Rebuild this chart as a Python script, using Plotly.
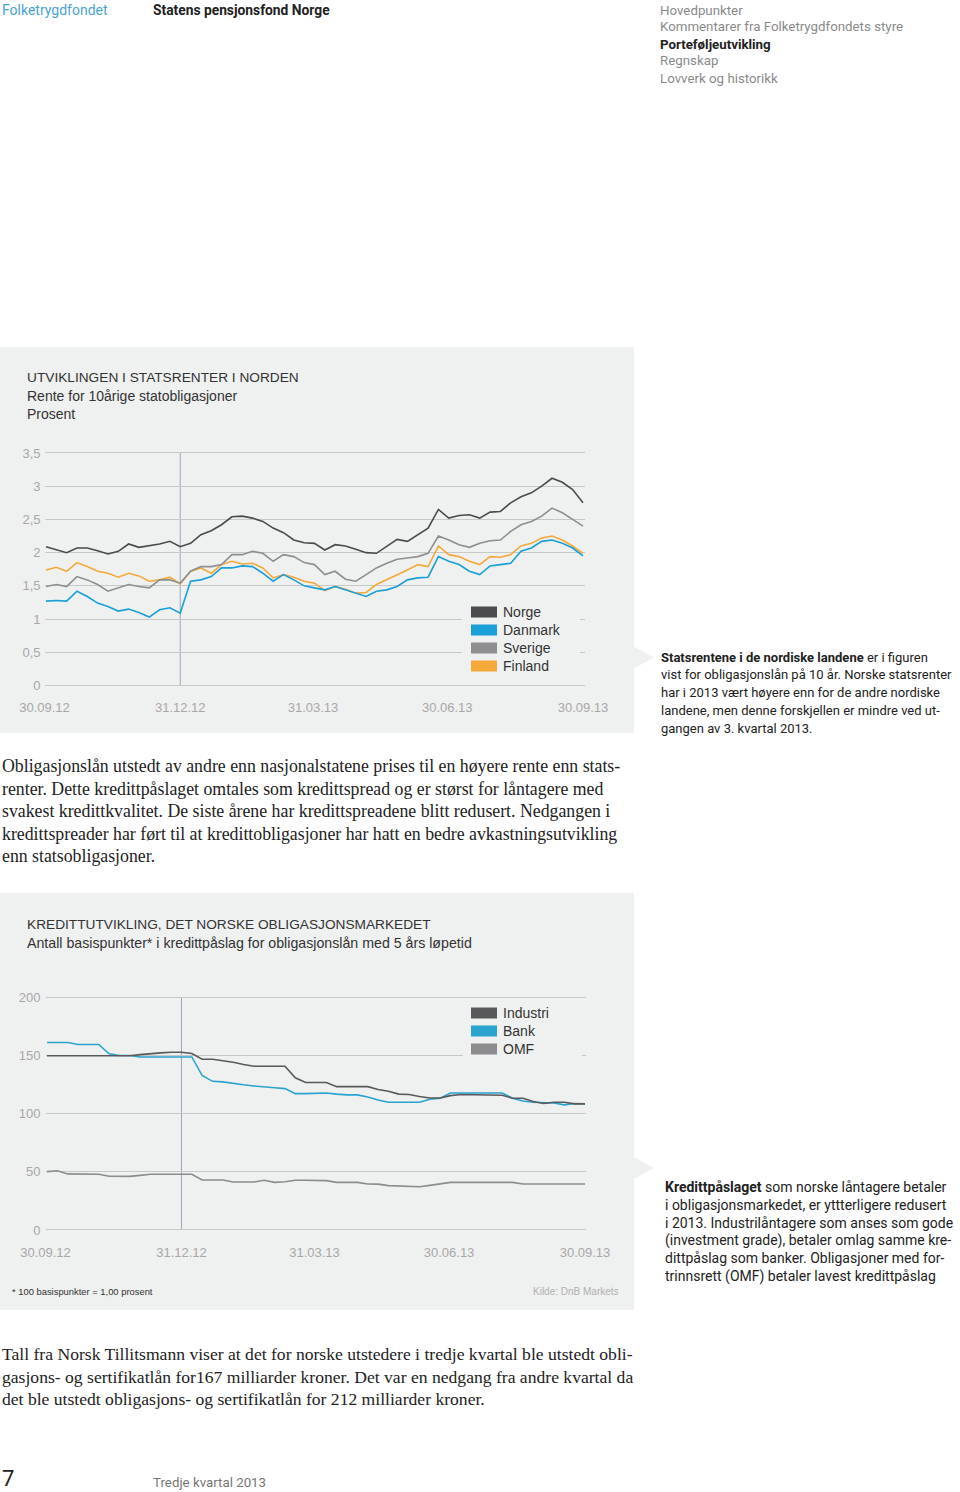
import plotly.graph_objects as go
import pandas as pd

W, H = 960, 1492


def fx(x):
    return x / W


def fy(y):
    return 1 - y / H


# ---------------- data ----------------
weeks = pd.date_range("2012-10-01", periods=53, freq="7D").strftime("%Y-%m-%d").tolist()

norge = [2.09, 2.04, 2.00, 2.07, 2.07, 2.03, 1.98, 2.02, 2.13, 2.08, 2.10, 2.13, 2.17, 2.09,
         2.14, 2.27, 2.33, 2.42, 2.54, 2.55, 2.52, 2.47, 2.37, 2.30, 2.19, 2.15, 2.14, 2.04,
         2.12, 2.10, 2.05, 2.00, 1.99, 2.09, 2.20, 2.17, 2.27, 2.37, 2.65, 2.52, 2.56, 2.57,
         2.52, 2.61, 2.62, 2.75, 2.84, 2.90, 3.00, 3.12, 3.06, 2.95, 2.75]
danmark = [1.27, 1.28, 1.27, 1.42, 1.34, 1.24, 1.19, 1.12, 1.15, 1.10, 1.03, 1.14, 1.17, 1.09,
           1.57, 1.59, 1.64, 1.77, 1.77, 1.80, 1.79, 1.69, 1.57, 1.67, 1.59, 1.50, 1.47, 1.44,
           1.49, 1.44, 1.40, 1.34, 1.42, 1.44, 1.49, 1.59, 1.62, 1.63, 1.94, 1.87, 1.82, 1.72,
           1.67, 1.80, 1.82, 1.84, 2.02, 2.07, 2.17, 2.19, 2.14, 2.07, 1.95]
sverige = [1.49, 1.52, 1.49, 1.64, 1.59, 1.52, 1.42, 1.47, 1.52, 1.49, 1.47, 1.59, 1.59, 1.54,
           1.72, 1.79, 1.79, 1.82, 1.97, 1.97, 2.02, 1.99, 1.87, 1.97, 1.94, 1.85, 1.82, 1.67,
           1.72, 1.60, 1.57, 1.67, 1.77, 1.84, 1.90, 1.92, 1.94, 1.99, 2.25, 2.19, 2.12, 2.08,
           2.14, 2.18, 2.19, 2.32, 2.42, 2.47, 2.55, 2.67, 2.60, 2.50, 2.40]
finland = [1.74, 1.78, 1.72, 1.85, 1.79, 1.72, 1.69, 1.63, 1.69, 1.65, 1.57, 1.59, 1.63, 1.53,
           1.72, 1.77, 1.69, 1.82, 1.87, 1.83, 1.84, 1.77, 1.62, 1.67, 1.63, 1.57, 1.54, 1.43,
           1.49, 1.45, 1.39, 1.40, 1.52, 1.59, 1.67, 1.74, 1.82, 1.79, 2.10, 1.97, 1.94, 1.87,
           1.82, 1.94, 1.93, 1.97, 2.10, 2.14, 2.22, 2.25, 2.19, 2.10, 1.99]

industri = [150, 150, 150, 150, 150, 150, 150, 150, 150, 151, 152, 152.5, 153, 153,
            152, 147, 147, 146, 144.5, 142.5, 141, 141, 141, 141, 131, 127, 127, 127,
            123.4, 123.4, 123.4, 123.4, 121, 119.5, 117, 116.6, 115, 113.7, 113.7, 115.7, 116.6, 116.6,
            116.6, 116.6, 116, 113.4, 113.4, 110.6, 108.9, 110, 110, 108.6, 108.6]
bank = [161.4, 161.4, 161.4, 159.7, 159.7, 159.7, 151.7, 150.3, 150.3, 149, 149, 149, 149, 149,
        149, 133, 128, 127.5, 126, 125, 124, 123.5, 122.5, 121.7, 117.4, 117.4, 117.4, 118,
        117, 116.3, 116.3, 114.5, 112, 110, 110, 110, 110, 112.5, 113.4, 118, 118, 118,
        118, 118, 118, 113.4, 111, 110, 110, 109.4, 107.7, 108.9, 108.6]
omf = [50.3, 51, 48.3, 48.3, 48.3, 48, 46.3, 46.2, 46.2, 47, 48, 48, 48, 48,
       48, 43, 43, 43, 41.3, 41.3, 41.3, 42.8, 41, 41.5, 42.8, 42.8, 42.8, 42.5,
       41, 41, 41, 39.6, 39.5, 38.2, 37.9, 37.1, 37.3, 38.4, 39.5, 41, 41, 41,
       41, 41, 41, 41, 39.6, 39.6, 39.6, 39.6, 39.6, 39.6, 39.6]

quarter_dates = ["2012-09-30", "2012-12-31", "2013-03-31", "2013-06-30", "2013-09-30"]
quarter_labels = ["30.09.12", "31.12.12", "31.03.13", "30.06.13", "30.09.13"]

ticks1 = [0, 0.5, 1, 1.5, 2, 2.5, 3, 3.5]
ticks1_text = ["0", "0,5", "1", "1,5", "2", "2,5", "3", "3,5"]
ticks2 = [0, 50, 100, 150, 200]

series1 = [("Norge", norge, "#4b4b4d"), ("Danmark", danmark, "#1a9fd6"),
           ("Sverige", sverige, "#8e8e90"), ("Finland", finland, "#f4a93a")]
series2 = [("Industri", industri, "#59595b"), ("Bank", bank, "#2aa3cf"), ("OMF", omf, "#8c8c8e")]

# ---------------- styles ----------------
PANEL = "#eff0f0"
GRID = "#c8c8c8"
TICK = "#a8a8a8"
SANS = "Liberation Sans, Arial, sans-serif"
HUM = "Roboto, sans-serif"
SERIF = "Liberation Serif, serif"

fig = go.Figure()

for i in [3, 2, 1, 0]:
    name, vals, col = series1[i]
    fig.add_trace(go.Scatter(x=weeks, y=vals, mode="lines", name=name,
                             line=dict(color=col, width=1.6), xaxis="x", yaxis="y",
                             hoverinfo="skip", showlegend=False))
for i in [2, 1, 0]:
    name, vals, col = series2[i]
    fig.add_trace(go.Scatter(x=weeks, y=vals, mode="lines", name=name,
                             line=dict(color=col, width=1.6), xaxis="x2", yaxis="y2",
                             hoverinfo="skip", showlegend=False))

tickfont = dict(family=SANS, size=13, color=TICK)

ppu1 = (685.5 - 453) / 3.5
fig.update_layout(
    xaxis=dict(domain=[fx(44.5), fx(585)], type="date",
               range=["2012-09-30", "2013-10-01 08:40"],
               tickvals=quarter_dates, ticktext=quarter_labels, showgrid=False,
               zeroline=False, showline=False, ticks="", tickfont=tickfont,
               ticklabelstandoff=11, anchor="y", fixedrange=True, automargin=False),
    yaxis=dict(domain=[fy(685.5 + 0.03 * ppu1), fy(453 - 0.03 * ppu1)], range=[-0.03, 3.53],
               tickvals=ticks1, ticktext=ticks1_text, showgrid=True, gridcolor=GRID,
               gridwidth=1, zeroline=False, showline=False, ticks="", tickfont=tickfont,
               ticklabelstandoff=3, anchor="x", fixedrange=True, automargin=False),
)
ppu2 = (1230 - 997.7) / 200
fig.update_layout(
    xaxis2=dict(domain=[fx(45.5), fx(586)], type="date",
                range=["2012-09-30", "2013-09-30 16:00"],
                tickvals=quarter_dates, ticktext=quarter_labels, showgrid=False,
                zeroline=False, showline=False, ticks="", tickfont=tickfont,
                ticklabelstandoff=11, anchor="y2", fixedrange=True, automargin=False),
    yaxis2=dict(domain=[fy(1230 + 1.5 * ppu2), fy(997.7 - 1.5 * ppu2)], range=[-1.5, 201.5],
                tickvals=ticks2, showgrid=True, gridcolor=GRID, gridwidth=1,
                zeroline=False, showline=False, ticks="", tickfont=tickfont,
                ticklabelstandoff=4, anchor="x2", fixedrange=True, automargin=False),
)

shapes = []


def prect(x0, y0, x1, y1, color, layer="below"):
    shapes.append(dict(type="rect", xref="paper", yref="paper", x0=fx(x0), x1=fx(x1),
                       y0=fy(y1), y1=fy(y0), fillcolor=color, line=dict(width=0), layer=layer))


prect(0, 347, 634, 733, PANEL)
prect(0, 893, 634, 1310, PANEL)
for yc in (657.5, 1168):
    shapes.append(dict(type="path", xref="paper", yref="paper",
                       path=f"M {fx(633)} {fy(yc - 11.5)} L {fx(654)} {fy(yc)} L {fx(633)} {fy(yc + 11.5)} Z",
                       fillcolor=PANEL, line=dict(width=0), layer="below"))

shapes.append(dict(type="line", xref="x", yref="y", x0="2012-12-31", x1="2012-12-31", y0=0, y1=3.5,
                   line=dict(color="#93a9bf", width=1), layer="below"))
shapes.append(dict(type="line", xref="x2", yref="y2", x0="2012-12-31", x1="2012-12-31", y0=0, y1=200,
                   line=dict(color="#93a9bf", width=1), layer="below"))

prect(462, 598, 580, 676, PANEL, layer="above")
prect(463, 1003, 582, 1060, PANEL, layer="above")

annotations = []


def txt(x, y, s, size, color="#333333", family=SANS, xanchor="left"):
    annotations.append(dict(x=fx(x), y=fy(y), xref="paper", yref="paper", text=s,
                            showarrow=False, xanchor=xanchor, yanchor="middle",
                            font=dict(size=size, color=color, family=family)))


for k, (name, vals, col) in enumerate(series1):
    yc = 612 + 18 * k
    prect(471, yc - 5.5, 497, yc + 5.5, col, layer="above")
    txt(501, yc, name, 14, "#333333")
for k, (name, vals, col) in enumerate(series2):
    yc = 1013 + 18 * k
    prect(471, yc - 5.5, 497, yc + 5.5, col, layer="above")
    txt(501, yc, name, 14, "#333333")

txt(0, 10, "Folketrygdfondet", 14, "#4aa3d3", HUM)
txt(151, 10, "<b>Statens pensjonsfond Norge</b>", 13.8, "#222222", HUM)
nav = ["Hovedpunkter", "Kommentarer fra Folketrygdfondets styre", "<b>Porteføljeutvikling</b>",
       "Regnskap", "Lovverk og historikk"]
for i, s in enumerate(nav):
    txt(658, 10 + 17 * i, s, 13.3, "#222222" if "<b>" in s else "#8a8a8a", HUM)

txt(25, 377, "UTVIKLINGEN I STATSRENTER I NORDEN", 13.7, "#333333")
txt(25, 396, "Rente for 10årige statobligasjoner", 14, "#333333")
txt(25, 414, "Prosent", 14, "#333333")

txt(25, 924, "KREDITTUTVIKLING, DET NORSKE OBLIGASJONSMARKEDET", 13.7, "#333333")
txt(25, 943, "Antall basispunkter* i kredittpåslag for obligasjonslån med 5 års løpetid", 14.2, "#333333")
txt(10, 1291, "* 100 basispunkter = 1,00 prosent", 9.4, "#333333")
txt(621, 1291, "Kilde: DnB Markets", 10, "#b0b0b0", xanchor="right")

side1 = ["<b>Statsrentene i de nordiske landene</b> er i figuren",
         "vist for obligasjonslån på 10 år. Norske statsrenter",
         "har i 2013 vært høyere enn for de andre nordiske",
         "landene, men denne forskjellen er mindre ved ut-",
         "gangen av 3. kvartal 2013."]
for i, s in enumerate(side1):
    txt(659, 657 + 17.8 * i, s, 13, "#222222", HUM)

side2 = ["<b>Kredittpåslaget</b> som norske låntagere betaler",
         "i obligasjonsmarkedet, er yttterligere redusert",
         "i 2013. Industrilåntagere som anses som gode",
         "(investment grade), betaler omlag samme kre-",
         "dittpåslag som banker. Obligasjoner med for-",
         "trinnsrett (OMF) betaler lavest kredittpåslag"]
for i, s in enumerate(side2):
    txt(663, 1187 + 17.8 * i, s, 14, "#222222", HUM)

body1 = ["Obligasjonslån utstedt av andre enn nasjonalstatene prises til en høyere rente enn stats-",
         "renter. Dette kredittpåslaget omtales som kredittspread og er størst for låntagere med",
         "svakest kredittkvalitet. De siste årene har kredittspreadene blitt redusert. Nedgangen i",
         "kredittspreader har ført til at kredittobligasjoner har hatt en bedre avkastningsutvikling",
         "enn statsobligasjoner."]
for i, s in enumerate(body1):
    txt(0, 766 + 22.5 * i, s, 17.8, "#222222", SERIF)

body2 = ["Tall fra Norsk Tillitsmann viser at det for norske utstedere i tredje kvartal ble utstedt obli-",
         "gasjons- og sertifikatlån for167 milliarder kroner. Det var en nedgang fra andre kvartal da",
         "det ble utstedt obligasjons- og sertifikatlån for 212 milliarder kroner."]
for i, s in enumerate(body2):
    txt(0, 1354 + 22.5 * i, s, 17.6, "#222222", SERIF)

txt(0, 1478, "7", 22, "#222222", HUM)
txt(151, 1482, "Tredje kvartal 2013", 13.3, "#777777", HUM)

fig.update_layout(width=W, height=H,
                  margin=dict(l=0, r=0, t=0, b=0, pad=0, autoexpand=False),
                  paper_bgcolor="white", plot_bgcolor="rgba(0,0,0,0)",
                  showlegend=False, shapes=shapes, annotations=annotations)

fig.write_html("out.html")
